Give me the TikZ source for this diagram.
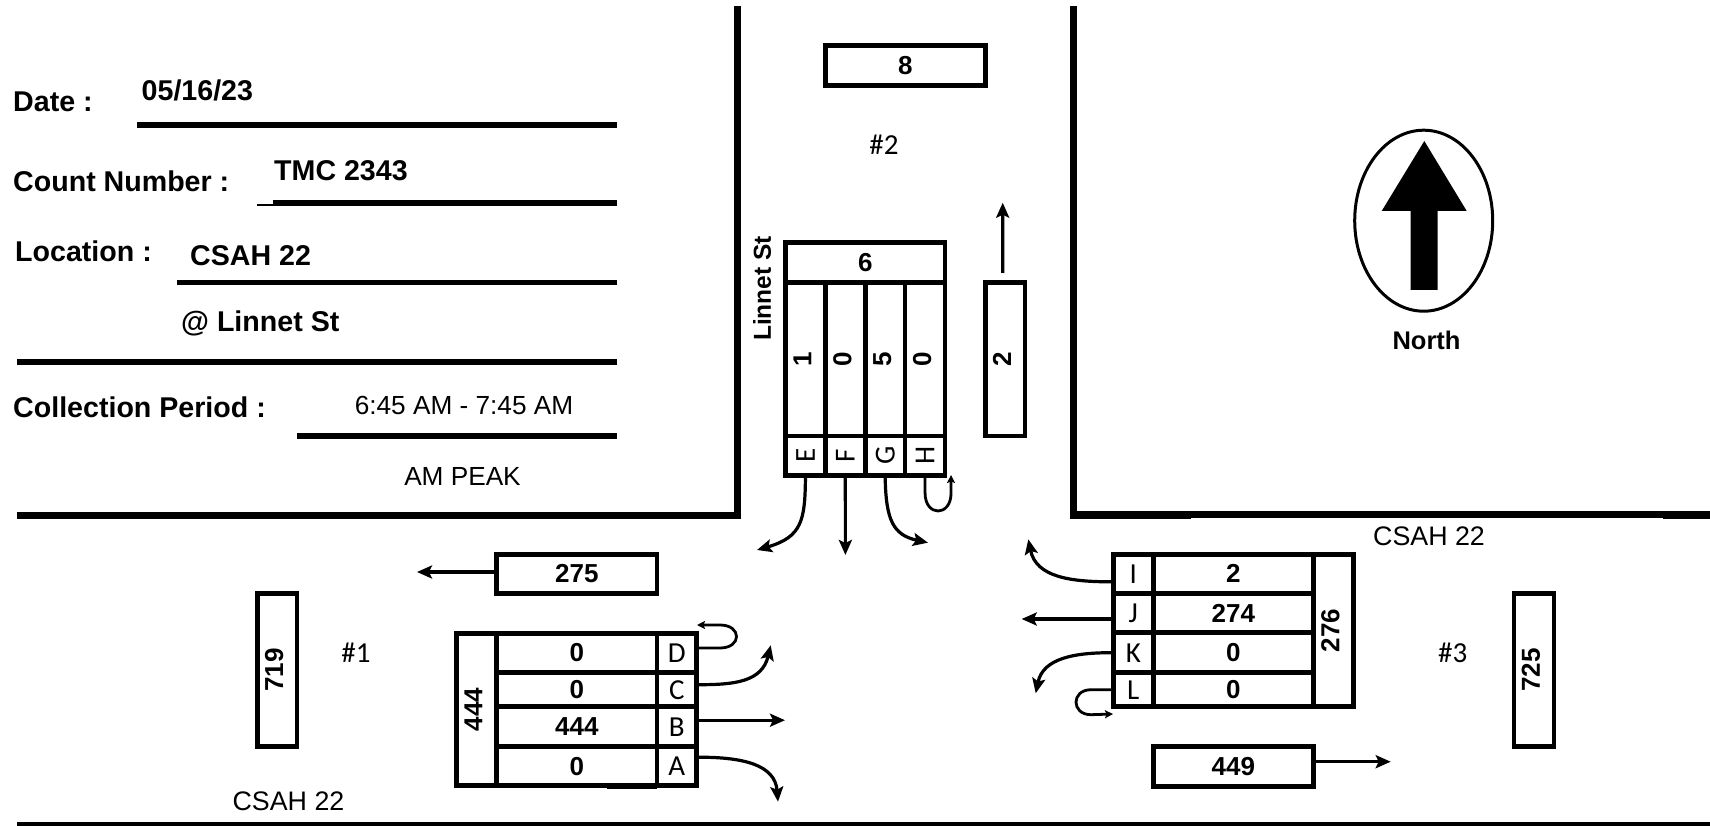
\documentclass[tikz,border=0pt]{standalone}
\usepackage{fontspec}
\setmainfont{Liberation Sans}
\newfontfamily\lanefamily{Carlito}
\usetikzlibrary{arrows.meta}
\usetikzlibrary{positioning}
\usetikzlibrary{matrix}
\usetikzlibrary{shapes.geometric}
\newcommand{\formfont}{\fontsize{28.6}{32}\selectfont\bfseries}
\newcommand{\plainfont}{\fontsize{26.2}{30}\selectfont}
\newcommand{\roadfont}{\fontsize{26.8}{30}\selectfont}
\newcommand{\countfont}{\fontsize{26}{30}\selectfont\bfseries}
\newcommand{\lanefont}{\lanefamily\fontsize{29}{32}\selectfont}
\newcommand{\vtext}[1]{\rotatebox{90}{#1}\kern6pt}
\tikzset{
  road/.style={line width=7pt},
  formline/.style={line width=5.2pt},
  formtext/.style={anchor=base west, inner sep=0, font=\formfont},
  plaintext/.style={anchor=base, inner sep=0, font=\plainfont},
  sitetext/.style={inner sep=0, font=\lanefont},
  countbox/.style={draw, line width=4.6pt, inner sep=0, font=\countfont},
  lanecell/.style={font=\lanefont},
  countgrid/.style={
    matrix of nodes,
    inner sep=0, row sep=-4.6pt, column sep=-4.6pt,
    nodes={draw, line width=4.6pt, anchor=center, inner sep=0, font=\countfont},
    ampersand replacement=\&
  },
  arrow/.style={-{Stealth[length=15pt,width=13pt,inset=3pt]}, line width=3.2pt},
  uturn/.style={-{Stealth[length=8pt,width=8pt,inset=1.5pt]}, line width=2.8pt}
}
\begin{document}
\begin{tikzpicture}[x=1pt,y=-1pt]
  \useasboundingbox (0,0) rectangle (1710,826);

  \draw [road] (737,6) -- (737,515.3) -- (17,515.3);
  \draw [road] (1073.7,6) -- (1073.7,514.8) -- (1710,514.8);
  \draw [line width=7.6pt] (1070,515.5) -- (1190.7,515.5);
  \draw [line width=7.6pt] (1662.5,515.5) -- (1710,515.5);
  \draw [line width=5pt] (17.3,824) -- (1710,824);

  \node [formtext] (datelabel) at (13,112) {Date :};
  \node [formtext] (dateval) at (141.5,100.7) {05/16/23};
  \node [formtext] (countlabel) at (13,191.7) {Count Number :};
  \node [formtext] (countval) at (274,180.7) {TMC 2343};
  \node [formtext] (loclabel) at (15,261.7) {Location :};
  \node [formtext] (locval) at (190,266) {CSAH 22};
  \node [formtext] (locvaltwo) at (181,331.7) {@ Linnet St};
  \node [formtext] (periodlabel) at (13,417) {Collection Period :};
  \node [plaintext] (periodval) at (464,414) {6:45 AM - 7:45 AM};
  \node [plaintext] (peakval) at (462.5,485) {AM PEAK};
  \draw [formline] (137,125) -- (617,125);
  \draw [formline] (272.7,203) -- (617,203);
  \draw [line width=1.5pt] (257,204.8) -- (272.7,204.8);
  \draw [formline] (177,282.3) -- (617,282.3);
  \draw [formline] (17,362) -- (617,362);
  \draw [formline] (297,436) -- (617,436);

  \node [plaintext, font=\roadfont, anchor=center] (roadsouth) at (288.5,801.7) {CSAH 22};
  \node [plaintext, font=\roadfont, anchor=center] (roadeast) at (1429,536.7) {CSAH 22};
  \node [inner sep=0, font=\fontsize{24.5}{28}\selectfont\bfseries] (roadnorth) at (762,288.5) {\rotatebox{90}{Linnet St}};

  \node [sitetext] (siteone) at (356,652.7) {\#1};
  \node [sitetext] (sitetwo) at (884,145) {\#2};
  \node [sitetext] (sitethree) at (1452.7,652.7) {\#3};

  \node [draw, ellipse, line width=3pt, inner sep=0, minimum width=138pt, minimum height=181pt] (compass) at (1423.7,220.7) {};
  \fill (1424.3,141) -- (1466.7,211) -- (1437.7,211) -- (1437.7,290) -- (1410.7,290) -- (1410.7,211) -- (1381.7,211) -- cycle;
  \node [inner sep=0, font=\fontsize{25.5}{30}\selectfont\bfseries] (northlabel) at (1426.5,340.5) {North};

  \matrix [countgrid, column 1/.style={nodes={minimum width=39.875pt}}, column 2/.style={nodes={minimum width=39.875pt}},
           column 3/.style={nodes={minimum width=39.875pt}}, column 4/.style={nodes={minimum width=39.875pt}},
           row 1/.style={nodes={minimum height=153.7pt}}, row 2/.style={nodes={minimum height=39.7pt}}]
    (northcount) at (865.25,379) {
      \vtext{1} \& \vtext{0} \& \vtext{5} \& \vtext{0} \\
      |[lanecell]|\rotatebox{90}{E} \& |[lanecell]|\rotatebox{90}{F} \& |[lanecell]|\rotatebox{90}{G} \& |[lanecell]|\rotatebox{90}{H} \\
    };
  \node [countbox, minimum width=159.5pt, minimum height=39.6pt, above=-4.6pt of northcount] (northtotal) {6};

  \matrix [countgrid, column 1/.style={nodes={minimum width=160.3pt}}, column 2/.style={nodes={minimum width=39.7pt}},
           row 1/.style={nodes={minimum height=39.4pt}}, row 2/.style={nodes={minimum height=34pt}},
           row 3/.style={nodes={minimum height=40pt}}, row 4/.style={nodes={minimum height=39pt}}]
    (westcount) at (596.7,709.5) {
      0 \& |[lanecell]|D \\
      0 \& |[lanecell]|C \\
      444 \& |[lanecell]|B \\
      0 \& |[lanecell]|A \\
    };
  \node [countbox, minimum width=40pt, minimum height=152.4pt, left=-4.6pt of westcount] (westtotal) {\vtext{444}};
  \draw [line width=4.6pt] (606.7,786.6) -- (657,786.6);

  \matrix [countgrid, column 1/.style={nodes={minimum width=40pt}}, column 2/.style={nodes={minimum width=160pt}},
           row 1/.style={nodes={minimum height=39pt}}, row 2/.style={nodes={minimum height=39.4pt}},
           row 3/.style={nodes={minimum height=40pt}}, row 4/.style={nodes={minimum height=34pt}}]
    (eastcount) at (1213.3,630.5) {
      |[lanecell]|I \& 2 \\
      |[lanecell]|J \& 274 \\
      |[lanecell]|K \& 0 \\
      |[lanecell]|L \& 0 \\
    };
  \node [countbox, minimum width=40pt, minimum height=152.4pt, right=-4.6pt of eastcount] (easttotal) {\vtext{276}};

  \node [countbox, minimum width=160.3pt, minimum height=40pt] (northin) at (905.35,65.8) {8};
  \node [countbox, minimum width=39.7pt, minimum height=153.7pt] (northout) at (1005.15,359.15) {\vtext{2}};
  \node [countbox, minimum width=160.3pt, minimum height=38.6pt] (westout) at (576.85,574) {275};
  \node [countbox, minimum width=39.8pt, minimum height=153.4pt] (westin) at (277.1,670) {\vtext{719}};
  \node [countbox, minimum width=160pt, minimum height=40pt] (eastout) at (1233.3,766.7) {449};
  \node [countbox, minimum width=40pt, minimum height=153.4pt] (eastin) at (1533.8,670) {\vtext{725}};

  \coordinate (northoutend) at (1002.7,202.7);
  \coordinate (westoutend) at (417,572);
  \coordinate (eastoutend) at (1390.7,761.7);
  \coordinate (dend) at (697,625);
  \coordinate (cend) at (770.7,645.3);
  \coordinate (bend) at (785,720.2);
  \coordinate (aend) at (778,801.7);
  \coordinate (eend) at (757,550);
  \coordinate (fend) at (845.4,555);
  \coordinate (gend) at (928,542.7);
  \coordinate (hend) at (951,475);
  \coordinate (iend) at (1028.3,539.3);
  \coordinate (jend) at (1021.7,619);
  \coordinate (kend) at (1035.7,693.3);
  \coordinate (lend) at (1113,714);

  \draw [arrow] ([xshift=-2.5pt]northout.north) ++(0,-7) -- (northoutend);
  \draw [arrow] ([yshift=2pt]westout.west) -- (westoutend);
  \draw [arrow] ([yshift=5pt]eastout.east) -- (eastoutend);

  \draw [uturn] ([yshift=5pt]westcount-1-2.east) -- ++(21,0) .. controls +(22,0) and +(22,0) .. ++(0,-23) -- (dend);
  \draw [arrow] ([yshift=5pt]westcount-2-2.east) .. controls +(35,0) and (762,682) .. (cend);
  \draw [arrow] ([yshift=6.5pt]westcount-3-2.east) -- (bend);
  \draw [arrow] ([yshift=9pt]westcount-4-2.east) .. controls +(45,0) and (775,765) .. (aend);

  \draw [arrow] (northcount-2-1.south) .. controls (805,520) and (802,537) .. (eend);
  \draw [arrow] (northcount-2-2.south) -- (fend);
  \draw [arrow] (northcount-2-3.south) .. controls (886,520) and (893,535) .. (gend);
  \draw [uturn] (northcount-2-4.south) -- ++(0,15) .. controls +(0,24) and +(0,24) .. ++(26,0) -- (hend);

  \draw [arrow] ([yshift=-8pt]eastcount-1-1.west) .. controls +(-41,0) and (1036,577) .. (iend);
  \draw [arrow] ([yshift=-6pt]eastcount-2-1.west) -- (jend);
  \draw [arrow] (eastcount-3-1.west) .. controls +(-36,0) and (1043,658) .. (kend);
  \draw [uturn] (eastcount-4-1.west) -- ++(-20,0) .. controls +(-20,0) and +(-20,0) .. ++(0,25) -- (lend);
\end{tikzpicture}
\end{document}
